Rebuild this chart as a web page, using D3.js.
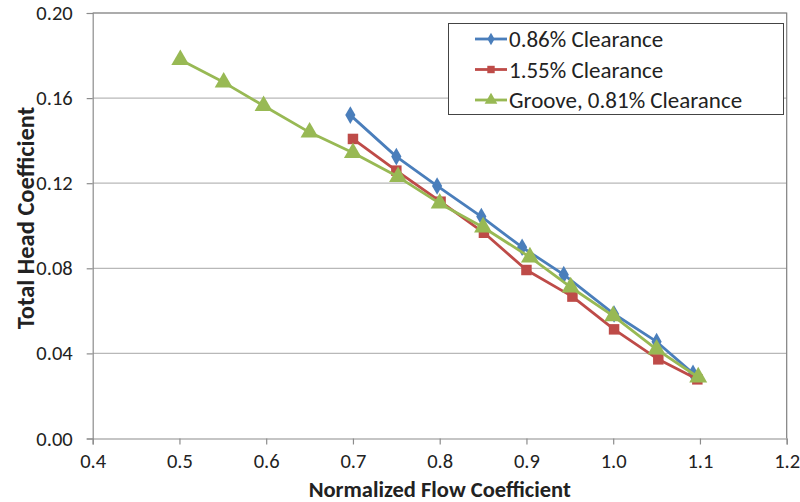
<!DOCTYPE html>
<html>
<head>
<meta charset="utf-8">
<script src="https://cdn.jsdelivr.net/npm/d3@7"></script>
<style>
  html, body { margin: 0; padding: 0; background: #fff; }
  svg { display: block; }
  text { font-family: Carlito, Calibri, "Open Sans", "Liberation Sans", sans-serif; fill: #222; }
</style>
</head>
<body>
<svg id="chart" width="800" height="502"></svg>
<script>
// Head coefficient vs. normalized flow coefficient, three impeller configurations
const xTicks = [0.4, 0.5, 0.6, 0.7, 0.8, 0.9, 1.0, 1.1, 1.2];
const yTicks = [0.00, 0.04, 0.08, 0.12, 0.16, 0.20];

const seriesNames = ["0.86% Clearance", "1.55% Clearance", "Groove, 0.81% Clearance"];

const flow086 = [0.697, 0.750, 0.797, 0.848, 0.895, 0.943, 1.001, 1.050, 1.092];
const head086 = [0.152, 0.1325, 0.1187, 0.1043, 0.0899, 0.0770, 0.0585, 0.0455, 0.0306];

const flow155 = [0.700, 0.750, 0.801, 0.851, 0.900, 0.953, 1.001, 1.052, 1.097];
const head155 = [0.1408, 0.1259, 0.1113, 0.0967, 0.0792, 0.0667, 0.0513, 0.0372, 0.0278];

const flowGroove = [0.501, 0.551, 0.597, 0.650, 0.700, 0.752, 0.800, 0.850, 0.904, 0.951, 1.000, 1.050, 1.098];
const headGroove = [0.178, 0.1674, 0.1564, 0.1439, 0.1343, 0.1230, 0.1105, 0.0993, 0.0852, 0.0711, 0.0576, 0.0419, 0.0288];

const colors = ["#4A7EBB", "#BE4B48", "#98B954"];
const markers = [d3.symbolDiamond, d3.symbolSquare, d3.symbolTriangle];
const markerSizes = [90, 110, 140];

const series = [
  { name: seriesNames[0], pts: flow086.map((x, i) => [x, head086[i]]) },
  { name: seriesNames[1], pts: flow155.map((x, i) => [x, head155[i]]) },
  { name: seriesNames[2], pts: flowGroove.map((x, i) => [x, headGroove[i]]) }
];

const svg = d3.select("#chart");
const plotLeft = 92.7, plotRight = 786.7, plotTop = 13, plotBottom = 438.5;
const fontStack = 'Carlito, Calibri, "Open Sans", "Liberation Sans", sans-serif';

const x = d3.scaleLinear().domain([0.4, 1.2]).range([plotLeft, plotRight]);
const y = d3.scaleLinear().domain([0, 0.2]).range([plotBottom, plotTop]);

// horizontal gridlines
svg.append("g")
  .selectAll("line")
  .data(yTicks.filter(v => v > 0))
  .join("line")
  .attr("x1", plotLeft).attr("x2", plotRight)
  .attr("y1", d => y(d)).attr("y2", d => y(d))
  .attr("stroke", "#b8b8b8").attr("stroke-width", 1.2);

// plot border on top and right
svg.append("path")
  .attr("d", `M${plotLeft},${plotTop}H${plotRight}V${plotBottom}`)
  .attr("fill", "none").attr("stroke", "#7f7f7f").attr("stroke-width", 1.2);

// axes
const xAxis = svg.append("g")
  .attr("transform", `translate(0,${plotBottom})`)
  .call(d3.axisBottom(x).tickValues(xTicks).tickFormat(d3.format(".1f")).tickSize(6).tickPadding(9));
const yAxis = svg.append("g")
  .attr("transform", `translate(${plotLeft},0)`)
  .call(d3.axisLeft(y).tickValues(yTicks).tickFormat(d3.format(".2f")).tickSize(6).tickPadding(14));

[xAxis, yAxis].forEach(g => {
  g.select(".domain").attr("stroke", "#8c8c8c").attr("stroke-width", 1.2);
  g.selectAll(".tick line").attr("stroke", "#8c8c8c").attr("stroke-width", 1.2);
  g.selectAll(".tick text").attr("font-size", 20.5).attr("fill", "#222")
    .attr("font-family", fontStack);
});

// axis titles
svg.append("text")
  .attr("x", (plotLeft + plotRight) / 2).attr("y", 497)
  .attr("text-anchor", "middle")
  .attr("font-size", 22.5).attr("font-weight", "bold")
  .text("Normalized Flow Coefficient");

svg.append("text")
  .attr("transform", `translate(34,218) rotate(-90)`)
  .attr("text-anchor", "middle")
  .attr("font-size", 24.5).attr("font-weight", "bold")
  .text("Total Head Coefficient");

// series lines and markers
const line = d3.line().x(d => x(d[0])).y(d => y(d[1]));
series.forEach((s, i) => {
  const g = svg.append("g");
  g.append("path")
    .attr("d", line(s.pts))
    .attr("fill", "none").attr("stroke", colors[i]).attr("stroke-width", 2.8)
    .attr("stroke-linejoin", "round");
  g.selectAll("path.mk")
    .data(s.pts)
    .join("path")
    .attr("class", "mk")
    .attr("transform", d => `translate(${x(d[0])},${y(d[1])})`)
    .attr("d", d3.symbol().type(markers[i]).size(markerSizes[i]))
    .attr("fill", colors[i]);
});

// legend
const lg = svg.append("g");
lg.append("rect")
  .attr("x", 448.5).attr("y", 23.5).attr("width", 335).attr("height", 91)
  .attr("fill", "#fff").attr("stroke", "#444").attr("stroke-width", 1);
seriesNames.forEach((name, i) => {
  const cy = 39 + i * 30.5;
  lg.append("line")
    .attr("x1", 475).attr("x2", 507).attr("y1", cy).attr("y2", cy)
    .attr("stroke", colors[i]).attr("stroke-width", 2.8);
  lg.append("path")
    .attr("transform", `translate(491,${cy})`)
    .attr("d", d3.symbol().type(markers[i]).size(markerSizes[i] * 0.5))
    .attr("fill", colors[i]);
  lg.append("text")
    .attr("x", 509).attr("y", cy).attr("dy", "0.35em")
    .attr("font-size", 23)
    .text(name);
});
</script>
</body>
</html>
